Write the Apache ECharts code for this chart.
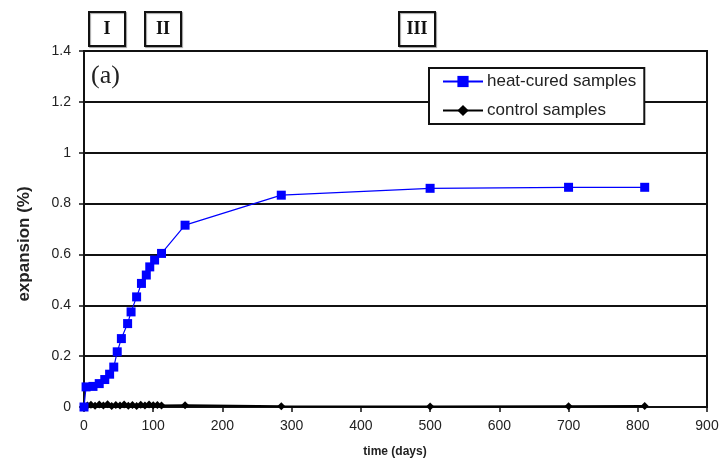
<!DOCTYPE html>
<html>
<head>
<meta charset="utf-8">
<title>Expansion over time</title>
<script src="https://cdn.jsdelivr.net/npm/echarts@6/dist/echarts.min.js"></script>
<style>
  html, body { margin: 0; padding: 0; background: #fff; }
  #chart { width: 726px; height: 463px; }
</style>
</head>
<body>
<div id="chart"></div>
<script>
// Measurement ages (days) and expansion (%) for both sample sets
const heatDays   = [0, 3, 13, 22, 30, 37, 43, 48, 54, 63, 68, 76, 83, 90, 95, 102, 112, 146, 285, 500, 700, 810];
const heatValues = [0, 0.079, 0.081, 0.092, 0.108, 0.129, 0.157, 0.217, 0.269, 0.328, 0.374, 0.433, 0.486, 0.519, 0.551, 0.578, 0.604, 0.715, 0.833, 0.86, 0.864, 0.864];

const controlDays   = [0, 5, 10, 16, 22, 28, 34, 40, 46, 52, 58, 64, 70, 76, 82, 88, 94, 100, 106, 112, 146, 285, 500, 700, 810];
const controlValues = [0.002, 0.006, 0.009, 0.005, 0.010, 0.006, 0.011, 0.004, 0.008, 0.006, 0.010, 0.005, 0.008, 0.004, 0.009, 0.006, 0.010, 0.007, 0.008, 0.006, 0.007, 0.003, 0.002, 0.003, 0.004];

const seriesNames = ['heat-cured samples', 'control samples'];
const stageLabels = ['I', 'II', 'III'];
const panelLabel = '(a)';
const xAxisTitle = 'time (days)';
const yAxisTitle = 'expansion (%)';

const xTicks = { min: 0, max: 900, step: 100 };
const yTicks = { min: 0, max: 1.4, step: 0.2 };

const pair = (xs, ys) => xs.map((x, i) => [x, ys[i]]);

const chart = echarts.init(document.getElementById('chart'), null, { renderer: 'canvas' });

const sans = 'Liberation Sans, Arial, sans-serif';
const serif = 'Liberation Serif, Times New Roman, serif';

// Boxed stage markers above the plot area
function stageBox(label, left) {
  return {
    type: 'group',
    left: left,
    top: 11,
    children: [
      {
        type: 'rect',
        shape: { x: 0, y: 0, width: 36, height: 34 },
        style: { fill: '#fff', stroke: '#111', lineWidth: 2,
                 shadowColor: 'rgba(0,0,0,0.35)', shadowBlur: 1, shadowOffsetX: 1, shadowOffsetY: 1 }
      },
      {
        type: 'text',
        x: 18, y: 17,
        style: { text: label, fill: '#111', font: 'bold 18px ' + serif,
                 align: 'center', verticalAlign: 'middle' }
      }
    ]
  };
}

chart.setOption({
  animation: false,
  backgroundColor: '#fff',
  grid: {
    left: 84, right: 19, top: 51, bottom: 56,
    show: true, borderColor: '#111', borderWidth: 2, backgroundColor: 'transparent'
  },
  legend: {
    orient: 'vertical',
    left: 429, top: 68,
    padding: [5, 8, 5, 13],
    itemWidth: 40, itemHeight: 14, itemGap: 12,
    backgroundColor: '#fff',
    borderColor: '#111', borderWidth: 2,
    textStyle: { fontFamily: sans, fontSize: 17, color: '#222', padding: [0, 0, 0, -1] },
    data: seriesNames
  },
  xAxis: {
    type: 'value',
    min: xTicks.min, max: xTicks.max, interval: xTicks.step,
    axisLine: { show: true, onZero: false, lineStyle: { color: '#111', width: 2 } },
    axisTick: { show: true, length: 5, lineStyle: { color: '#111', width: 1.5 } },
    axisLabel: { fontFamily: sans, fontSize: 14, color: '#222', margin: 12 },
    splitLine: { show: false }
  },
  yAxis: {
    type: 'value',
    min: yTicks.min, max: yTicks.max, interval: yTicks.step,
    axisLine: { show: true, lineStyle: { color: '#111', width: 2 } },
    axisTick: { show: true, length: 5, lineStyle: { color: '#111', width: 1.5 } },
    axisLabel: { fontFamily: sans, fontSize: 14, color: '#222', margin: 13 },
    splitLine: { show: true, lineStyle: { color: '#111', width: 2 } }
  },
  series: [
    {
      name: seriesNames[0],
      type: 'line',
      data: pair(heatDays, heatValues),
      symbol: 'rect', symbolSize: 9,
      lineStyle: { color: '#0000ff', width: 1.2 },
      itemStyle: { color: '#0000ff' },
      z: 3
    },
    {
      name: seriesNames[1],
      type: 'line',
      data: pair(controlDays, controlValues),
      symbol: 'diamond', symbolSize: 8,
      lineStyle: { color: '#000', width: 2 },
      itemStyle: { color: '#000' },
      z: 2
    }
  ],
  graphic: [
    stageBox(stageLabels[0], 88),
    stageBox(stageLabels[1], 144),
    stageBox(stageLabels[2], 398),
    {
      type: 'text',
      left: 91, top: 63,
      style: { text: panelLabel, fill: '#222', font: '26px ' + serif }
    },
    {
      type: 'text',
      x: 24, y: 244,
      rotation: Math.PI / 2,
      style: { text: yAxisTitle, fill: '#222', font: 'bold 17px ' + sans,
               align: 'center', verticalAlign: 'middle' }
    },
    {
      type: 'text',
      x: 395, y: 452,
      style: { text: xAxisTitle, fill: '#222', font: 'bold 12px ' + sans,
               align: 'center', verticalAlign: 'middle' }
    }
  ]
});
</script>
</body>
</html>
